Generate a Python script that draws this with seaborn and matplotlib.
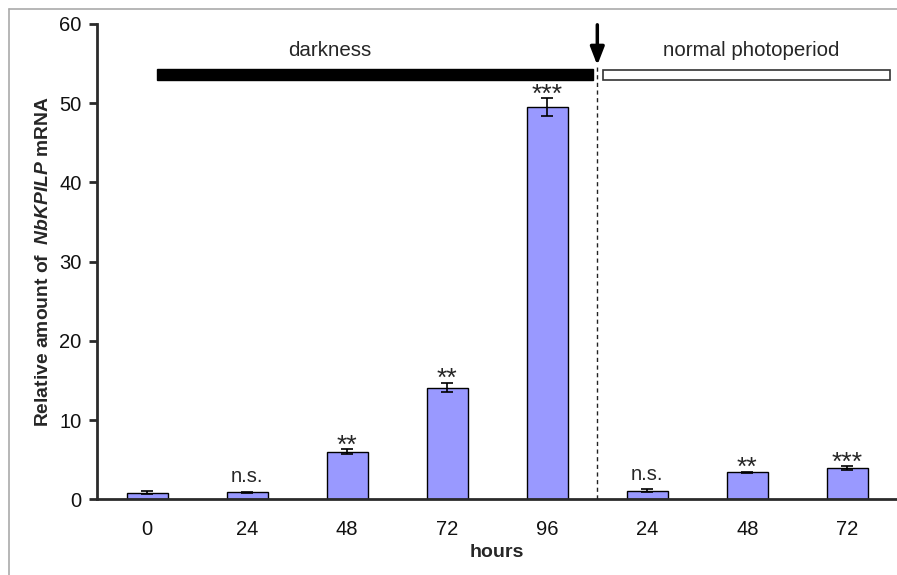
import matplotlib
matplotlib.use("Agg")
import matplotlib.pyplot as plt
import seaborn as sns
import pandas as pd
from matplotlib.patches import Rectangle
from matplotlib.lines import Line2D

# ---- data ----
keys = ["d0", "d24", "d48", "d72", "d96", "n24", "n48", "n72"]
tick_labels = ["0", "24", "48", "72", "96", "24", "48", "72"]
values = [0.85, 0.9, 6.0, 14.1, 49.5, 1.1, 3.4, 3.9]
errors = [0.2, 0.05, 0.3, 0.6, 1.1, 0.15, 0.1, 0.25]
signif = ["", "n.s.", "**", "**", "***", "n.s.", "**", "***"]
phase_labels = ["darkness", "normal photoperiod"]
n_dark = 5

sns.set_theme(style="white")
plt.rcParams["font.family"] = ["Liberation Sans", "DejaVu Sans"]
plt.rcParams["mathtext.fontset"] = "custom"
plt.rcParams["mathtext.it"] = "Liberation Sans:bold:italic"
plt.rcParams["mathtext.rm"] = "Liberation Sans:bold"
plt.rcParams["mathtext.bf"] = "Liberation Sans:bold"

df = pd.DataFrame({"key": keys, "value": values})

fig = plt.figure(figsize=(8.97, 5.75), dpi=100)
ax = fig.add_axes([97 / 897, (575 - 499.3) / 575, 800.5 / 897, (499.3 - 24) / 575])

sns.barplot(data=df, x="key", y="value", order=keys, color="#9999ff",
            saturation=1, edgecolor="black", linewidth=1.0, width=0.41,
            errorbar=None, ax=ax)
ax.errorbar(x=list(range(len(keys))), y=values, yerr=errors, fmt="none",
            ecolor="black", elinewidth=1.2, capsize=4.5, capthick=1.2, zorder=5)

ax.set_xlim(-0.5, len(keys) - 0.5)
ax.set_ylim(0, 60)
ax.set_yticks(range(0, 61, 10))

axis_col = "#2b2b2b"
for s in ["top", "right"]:
    ax.spines[s].set_visible(False)
for s in ["left", "bottom"]:
    ax.spines[s].set_color(axis_col)
    ax.spines[s].set_linewidth(2.0)

ax.set_xticks(range(len(keys)))
ax.set_xticklabels(tick_labels)
ax.set_xticks([i - 0.5 for i in range(len(keys) + 1)], minor=True)
ax.tick_params(axis="x", which="major", length=0, pad=15, labelsize=14.5, labelcolor="#111111")
ax.tick_params(axis="x", which="minor", length=6, width=2.0, color=axis_col, direction="out")
ax.tick_params(axis="y", which="major", length=6, width=2.0, color=axis_col, direction="out",
               pad=5, labelsize=14.5, labelcolor="#111111", left=True)

ax.set_xlabel("hours", fontsize=14, fontweight="bold", labelpad=3.5)
ax.set_ylabel(r"Relative amount of  $\mathit{NbKPILP}$ mRNA", fontsize=13.9,
              fontweight="bold", va="center")
ax.yaxis.set_label_coords(-0.0665, 0.5)

# significance labels
for i, (v, e, s) in enumerate(zip(values, errors, signif)):
    if not s:
        continue
    if s == "n.s.":
        ax.annotate(s, (i, v + e), xytext=(0, 7), textcoords="offset points",
                    ha="center", va="baseline", fontsize=14.5)
    else:
        ax.annotate(s, (i, v + e), xytext=(0, -2.5), textcoords="offset points",
                    ha="center", va="baseline", fontsize=19)

# phase bars
split = n_dark - 0.5
ax.add_patch(Rectangle((0.1, 52.9), split - 0.04 - 0.1, 1.4, facecolor="black",
                       edgecolor="black", lw=1, clip_on=False, zorder=4))
ax.add_patch(Rectangle((split + 0.06, 52.9), len(keys) - 0.57 - (split + 0.06), 1.3,
                       facecolor="white", edgecolor="#333333", lw=1.2, clip_on=False, zorder=4))
ax.text(1.83, 56.7, phase_labels[0], ha="center", va="center", fontsize=14.8)
ax.text(6.04, 56.6, phase_labels[1], ha="center", va="center", fontsize=14.8)

ax.plot([split, split], [0, 54.6], ls=(0, (3, 2.5)), color="#222222", lw=1.0, zorder=3)
ax.annotate("", xy=(split, 54.8), xytext=(split, 59.9),
            arrowprops=dict(arrowstyle="-|>,head_length=0.9,head_width=0.35",
                            color="black", lw=2.5, shrinkA=0, shrinkB=0),
            annotation_clip=False)

# frame border (grey) at top and left
fig.add_artist(Line2D([8.5 / 897, 1.0], [1 - 8.5 / 575, 1 - 8.5 / 575],
                      transform=fig.transFigure, color="#aaaaaa", lw=1.2))
fig.add_artist(Line2D([8.5 / 897, 8.5 / 897], [0, 1 - 8.5 / 575],
                      transform=fig.transFigure, color="#aaaaaa", lw=1.2))

fig.savefig("out.png", dpi=100)
